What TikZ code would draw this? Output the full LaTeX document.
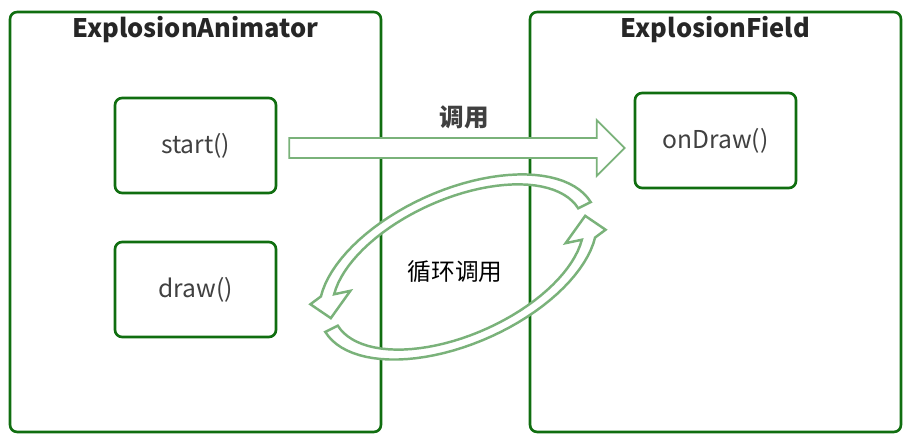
\documentclass[tikz,border=0pt]{standalone}
\usepackage{fontspec}
\setmainfont{Noto Sans CJK SC}
\usetikzlibrary{calc}
\definecolor{boxgreen}{RGB}{16,110,16}
\definecolor{arrowgreen}{RGB}{122,178,122}
\definecolor{txtgray}{RGB}{64,64,64}
\tikzset{
  outerbox/.style={draw=boxgreen, line width=1.5pt, rounded corners=4pt,
    minimum width=7.42cm, minimum height=8.4cm},
  funcbox/.style={draw=boxgreen, line width=1.5pt, rounded corners=4pt,
    minimum width=3.22cm, minimum height=1.9cm, text=txtgray,
    font=\fontsize{14}{16}\selectfont},
  title/.style={font=\bfseries\fontsize{14.5}{17}\selectfont, text=black!85},
  blockarrow/.style={draw=arrowgreen, line width=1pt, fill=white},
  looparrow/.style={draw=arrowgreen, line width=1.4pt, fill=white}
}
\begin{document}
\begin{tikzpicture}[x=0.02cm, y=0.02cm]
    \useasboundingbox (0,0) rectangle (914,439);

    % the two classes
    \node[outerbox] (anim) at (195.5,217) {};
    \node[title] (animtitle) at ($(anim.north)+(0,-19)$) {ExplosionAnimator};
    \node[outerbox] (field) at (715.5,217) {};
    \node[title] (fieldtitle) at ($(field.north)+(0,-19)$) {ExplosionField};

    \node[funcbox] (start) at (195.5,293.5) {start()};
    \node[funcbox] (draw) at (195.5,149.5) {draw()};
    \node[funcbox] (ondraw) at (715.5,298.5) {onDraw()};

    % start() calls onDraw()
    \coordinate (a) at ($(start.east)+(12,-2.5)$);
    \coordinate (b) at ($(ondraw.west)+(-9,-7.5)$);
    \draw[blockarrow] ($(a)+(0,10)$) -- ($(b)+(-28,10)$) -- ($(b)+(-28,28)$)
      -- (b) -- ($(b)+(-28,-28)$) -- ($(b)+(-28,-10)$) -- ($(a)+(0,-10)$) -- cycle;
    \node[title, text=txtgray, font=\bfseries\fontsize{14}{16}\selectfont] (call) at (464,322) {调用};

    % loop
    \begin{scope}[shift={(458,172)}, rotate=24]
      \foreach \r in {0,180}
        \draw[looparrow, rotate=\r]
          plot[domain=4:158, samples=40] ({148*cos(\x)},{77*sin(\x)})
          -- (-150,26) -- (-137,5) -- (-108,22)
          -- plot[domain=158:4, samples=40] ({134*cos(\x)},{68*sin(\x)}) -- cycle;
    \end{scope}
    \node[font=\fontsize{13.5}{16}\selectfont] (loop) at (455,167) {循环调用};
  \end{tikzpicture}
\end{document}
